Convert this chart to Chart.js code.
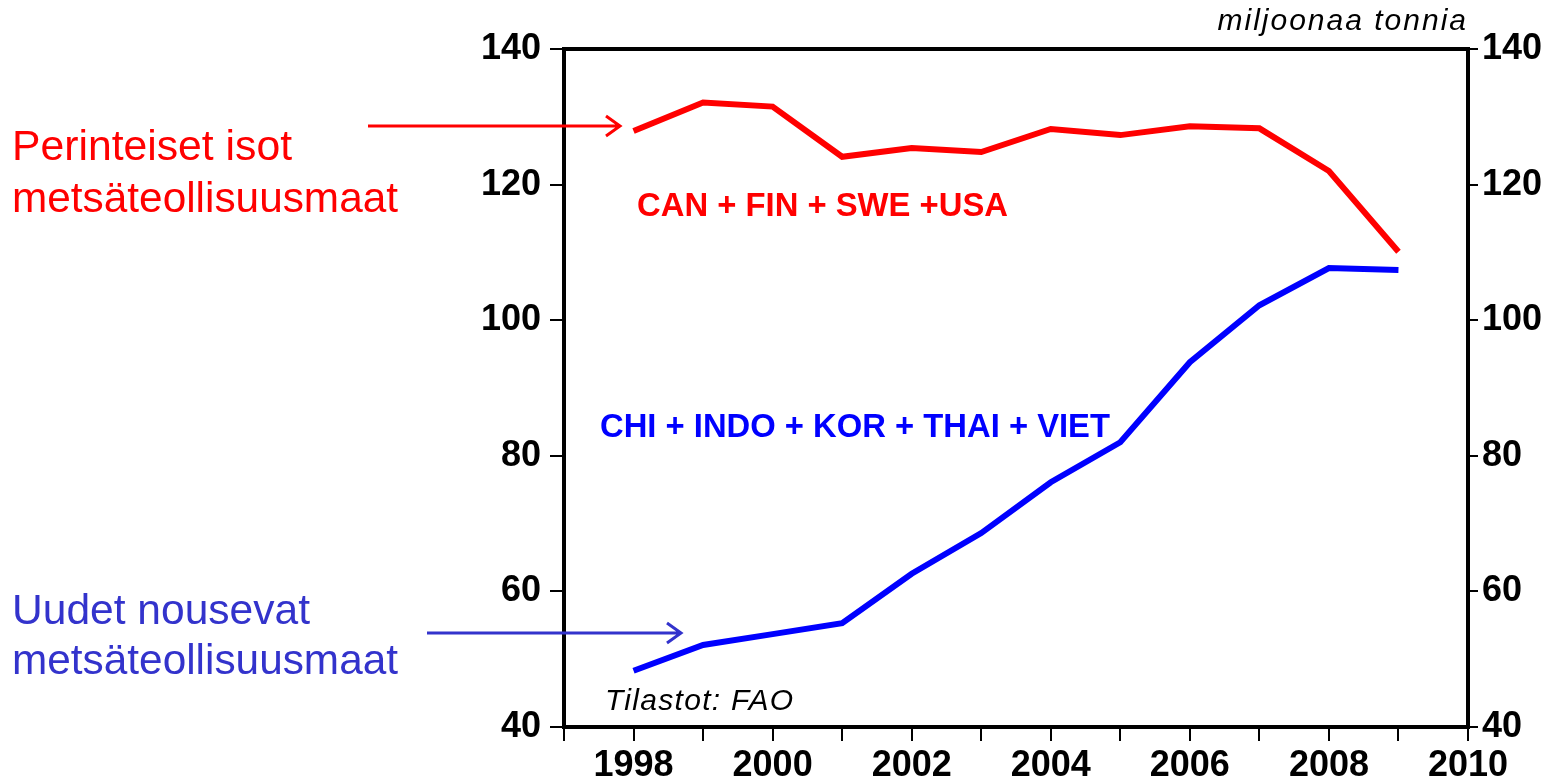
<!DOCTYPE html>
<html>
<head>
<meta charset="utf-8">
<script src="https://cdn.jsdelivr.net/npm/chart.js@4/dist/chart.umd.min.js"></script>
<style>
  html, body { margin: 0; padding: 0; background: #fff; }
  canvas { display: block; }
</style>
</head>
<body>
<canvas id="chartMetsa" width="1557" height="783"></canvas>
<script>
// data (miljoonaa tonnia)
const years = [1998, 1999, 2000, 2001, 2002, 2003, 2004, 2005, 2006, 2007, 2008, 2009];
const perinteiset = [127.9, 132.1, 131.5, 124.1, 125.4, 124.8, 128.2, 127.3, 128.6, 128.3, 122.0, 110.1];
const uudet = [48.3, 52.1, 53.7, 55.3, 62.6, 68.6, 76.1, 82.0, 93.8, 102.2, 107.7, 107.4];
const yTicks = [40, 60, 80, 100, 120, 140];
const xRange = [1997, 2010];

const RED = '#ff0000';
const BLUE = '#0000ff';
const BLUE_TXT = '#3333cc';

function toPoints(vals) {
    return years.map((y, i) => ({ x: y, y: vals[i] }));
}

function arrow(ctx, x1, x2, y, color) {
    ctx.save();
    ctx.strokeStyle = color;
    ctx.lineWidth = 3;
    ctx.beginPath();
    ctx.moveTo(x1, y);
    ctx.lineTo(x2, y);
    ctx.moveTo(x2 - 14, y - 10);
    ctx.lineTo(x2, y);
    ctx.lineTo(x2 - 14, y + 10);
    ctx.stroke();
    ctx.restore();
}

function text(ctx, str, x, y, font, color, align, maxW, spacing) {
    ctx.save();
    ctx.font = font;
    ctx.fillStyle = color;
    ctx.textAlign = align || 'left';
    ctx.textBaseline = 'middle';
    if (spacing) ctx.letterSpacing = spacing;
    if (maxW) ctx.fillText(str, x, y, maxW); else ctx.fillText(str, x, y);
    ctx.restore();
}

const annotations = {
    id: 'annotations',
    afterDraw(chart) {
        const ctx = chart.ctx;
        const a = chart.chartArea;
        // frame
        ctx.save();
        ctx.strokeStyle = '#000';
        ctx.lineWidth = 4;
        ctx.strokeRect(a.left, a.top, a.right - a.left, a.bottom - a.top);
        ctx.restore();

        const F = '"Liberation Sans", Arial, sans-serif';
        text(ctx, 'miljoonaa tonnia', 1468, 22, 'italic 30px ' + F, '#000', 'right', 255, '2px');
        text(ctx, 'CAN + FIN + SWE +USA', 637, 207, 'bold 33px ' + F, RED, 'left', 371);
        text(ctx, 'CHI + INDO + KOR + THAI + VIET', 600, 428, 'bold 33px ' + F, BLUE, 'left', 510);
        text(ctx, 'Tilastot: FAO', 605, 702, 'italic 30px ' + F, '#000', 'left', 190, '1.3px');

        text(ctx, 'Perinteiset isot', 12, 148, '43px ' + F, RED, 'left', 280);
        text(ctx, 'metsäteollisuusmaat', 12, 200, '43px ' + F, RED, 'left', 386);
        text(ctx, 'Uudet nousevat', 12, 612, '43px ' + F, BLUE_TXT, 'left', 298);
        text(ctx, 'metsäteollisuusmaat', 12, 662, '43px ' + F, BLUE_TXT, 'left', 386);

        arrow(ctx, 368, 620, 126, RED);
        arrow(ctx, 427, 681, 633, BLUE_TXT);
    }
};

const tickFont = { family: '"Liberation Sans", Arial, sans-serif', size: 36, weight: 'bold' };

new Chart(document.getElementById('chartMetsa').getContext('2d'), {
    type: 'line',
    data: {
        datasets: [{
            label: 'CAN + FIN + SWE +USA',
            data: toPoints(perinteiset),
            borderColor: RED,
            borderWidth: 6,
            pointRadius: 0,
            tension: 0,
            yAxisID: 'y'
        }, {
            label: 'CHI + INDO + KOR + THAI + VIET',
            data: toPoints(uudet),
            borderColor: BLUE,
            borderWidth: 6,
            pointRadius: 0,
            tension: 0,
            yAxisID: 'y'
        }]
    },
    options: {
        responsive: false,
        devicePixelRatio: 1,
        animation: false,
        layout: { padding: { top: 49, left: 0, right: 0, bottom: 0 } },
        plugins: {
            legend: { display: false },
            tooltip: { enabled: false }
        },
        scales: {
            x: {
                type: 'linear',
                min: xRange[0],
                max: xRange[1],
                afterFit: s => { s.height = 56; },
                border: { display: false },
                grid: { drawOnChartArea: false, tickLength: 14, tickColor: '#000', lineWidth: 2 },
                ticks: {
                    stepSize: 1,
                    autoSkip: false,
                    maxRotation: 0,
                    padding: 3,
                    color: '#000',
                    font: tickFont,
                    callback: v => (v % 2 === 0 ? String(v) : '')
                }
            },
            y: {
                position: 'left',
                min: yTicks[0],
                max: yTicks[yTicks.length - 1],
                afterFit: s => { s.width = 564; },
                afterBuildTicks: s => { s.ticks = yTicks.map(v => ({ value: v })); },
                border: { display: false },
                grid: { drawOnChartArea: false, tickLength: 14, tickColor: '#000', lineWidth: 2 },
                ticks: { padding: 9, color: '#000', font: tickFont }
            },
            y2: {
                position: 'right',
                min: yTicks[0],
                max: yTicks[yTicks.length - 1],
                afterFit: s => { s.width = 89; },
                afterBuildTicks: s => { s.ticks = yTicks.map(v => ({ value: v })); },
                border: { display: false },
                grid: { drawOnChartArea: false, tickLength: 10, tickColor: '#000', lineWidth: 2 },
                ticks: { padding: 4, color: '#000', font: tickFont }
            }
        }
    },
    plugins: [annotations]
});
</script>
</body>
</html>
